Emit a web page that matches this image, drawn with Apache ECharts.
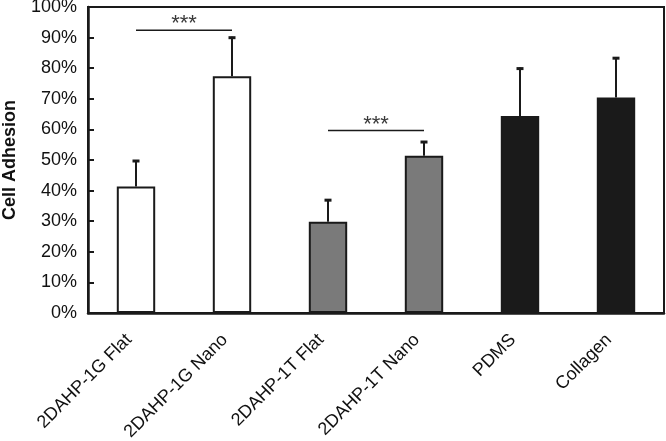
<!DOCTYPE html>
<html>
<head>
<meta charset="utf-8">
<script src="https://cdn.jsdelivr.net/npm/echarts@6/dist/echarts.min.js"></script>
<style>html,body{margin:0;padding:0;background:#fff;}#c{width:666px;height:441px;}</style>
</head>
<body>
<div id="c"></div>
<script>
const categories = ['2DAHP-1G Flat', '2DAHP-1G Nano', '2DAHP-1T Flat', '2DAHP-1T Nano', 'PDMS', 'Collagen'];
const means = [41.3, 77.4, 29.8, 51.4, 64.4, 70.4];
const errorsUp = [8.7, 12.9, 7.4, 4.8, 15.8, 13.2];
const barColors = ['#ffffff', '#ffffff', '#7a7a7a', '#7a7a7a', '#1a1a1a', '#1a1a1a'];
const sigFrom = [0, 2];
const sigTo = [1, 3];
const sigLevel = [92.4, 59.6];
const sigText = ['***', '***'];
const yTicks = [0, 10, 20, 30, 40, 50, 60, 70, 80, 90, 100];

const chart = echarts.init(document.getElementById('c'), null, {renderer: 'canvas'});
const FONT = 'Liberation Sans, Arial, sans-serif';

const option = {
  animation: false,
  backgroundColor: '#ffffff',
  grid: {left: 88, right: 2, top: 7, bottom: 128, outerBoundsMode: 'none', containLabel: false, show: true, borderColor: '#1a1a1a', borderWidth: 2, backgroundColor: 'transparent'},
  xAxis: {
    type: 'category',
    data: categories,
    axisLine: {lineStyle: {color: '#1a1a1a', width: 2.5}},
    axisTick: {inside: true, length: 6, lineStyle: {color: '#1a1a1a', width: 2}},
    axisLabel: {rotate: 45, margin: 17, padding: [0, 10, 0, 0], color: '#111', fontSize: 18, fontFamily: FONT, interval: 0}
  },
  yAxis: {
    type: 'value',
    min: yTicks[0],
    max: yTicks[yTicks.length - 1],
    interval: 10,
    name: 'Cell Adhesion',
    nameLocation: 'middle',
    nameGap: 69,
    nameTextStyle: {fontSize: 18, fontWeight: 'bold', color: '#111', fontFamily: FONT},
    splitLine: {show: false},
    axisLine: {show: true, lineStyle: {color: '#1a1a1a', width: 2.5}},
    axisTick: {show: true, inside: true, length: 6, lineStyle: {color: '#1a1a1a', width: 2}},
    axisLabel: {formatter: '{value}%', margin: 11, color: '#111', fontSize: 18, fontFamily: FONT}
  },
  series: [
    {
      type: 'bar',
      barWidth: '40%',
      data: means.map((v, i) => ({value: v, itemStyle: {color: barColors[i]}})),
      itemStyle: {borderColor: '#1a1a1a', borderWidth: 2},
      z: 2
    },
    {
      type: 'custom',
      z: 3,
      data: means.map((v, i) => [i, v, v + errorsUp[i]]),
      renderItem: function (params, api) {
        const x = api.value(0);
        const p0 = api.coord([x, api.value(1)]);
        const p1 = api.coord([x, api.value(2)]);
        return {
          type: 'group',
          children: [
            {type: 'line', shape: {x1: p0[0], y1: p0[1], x2: p1[0], y2: p1[1]}, style: {stroke: '#1a1a1a', lineWidth: 2}},
            {type: 'line', shape: {x1: p1[0] - 3.5, y1: p1[1] + 1, x2: p1[0] + 3.5, y2: p1[1] + 1}, style: {stroke: '#1a1a1a', lineWidth: 3}}
          ]
        };
      }
    },
    {
      type: 'custom',
      z: 3,
      data: sigFrom.map((f, i) => [f, sigTo[i], sigLevel[i], sigText[i]]),
      renderItem: function (params, api) {
        const a = api.coord([api.value(0), api.value(2)]);
        const b = api.coord([api.value(1), api.value(2)]);
        return {
          type: 'group',
          children: [
            {type: 'line', shape: {x1: a[0], y1: a[1], x2: b[0], y2: b[1]}, style: {stroke: '#1a1a1a', lineWidth: 1.5}},
            {type: 'text', style: {text: sigText[params.dataIndex], x: (a[0] + b[0]) / 2, y: a[1] - 6, textAlign: 'center', textVerticalAlign: 'middle', fill: '#3a3a3a', fontSize: 22, fontFamily: FONT}}
          ]
        };
      }
    }
  ]
};
chart.setOption(option);
</script>
</body>
</html>
